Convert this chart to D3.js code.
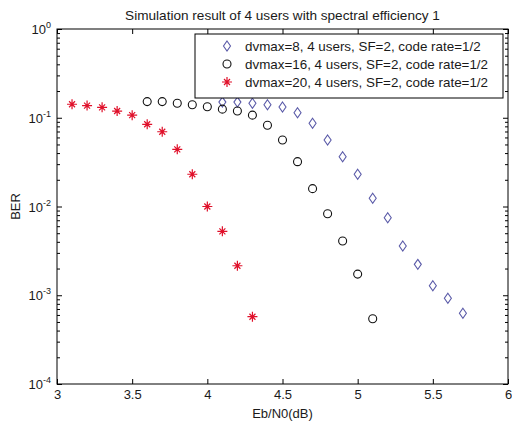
<!DOCTYPE html>
<html>
<head>
<meta charset="utf-8">
<script src="https://cdn.jsdelivr.net/npm/d3@7"></script>
<style>
  body { margin: 0; background: #fff; }
  text { font-family: "Liberation Sans", Arial, sans-serif; fill: #1a1a1a; }
</style>
</head>
<body>
<script>
// values
const ebnoDiamond = [4.1, 4.2, 4.3, 4.4, 4.5, 4.6, 4.7, 4.8, 4.9, 5.0, 5.1, 5.2, 5.3, 5.4, 5.5, 5.6, 5.7];
const berDiamond = [0.150, 0.150, 0.1455, 0.140, 0.132, 0.114, 0.0866, 0.0561, 0.0364, 0.0231, 0.0124, 0.00748, 0.00359, 0.00223, 0.00128, 0.000924, 0.000626];

const ebnoCircle = [3.6, 3.7, 3.8, 3.9, 4.0, 4.1, 4.2, 4.3, 4.4, 4.5, 4.6, 4.7, 4.8, 4.9, 5.0, 5.1];
const berCircle = [0.152, 0.152, 0.1455, 0.140, 0.133, 0.125, 0.119, 0.107, 0.0822, 0.0561, 0.0320, 0.0159, 0.0083, 0.00408, 0.00173, 0.000544];

const ebnoStar = [3.1, 3.2, 3.3, 3.4, 3.5, 3.6, 3.7, 3.8, 3.9, 4.0, 4.1, 4.2, 4.3];
const berStar = [0.142, 0.137, 0.131, 0.119, 0.107, 0.0844, 0.0695, 0.0441, 0.0231, 0.0100, 0.00525, 0.00215, 0.000573];

const legendLabels = [
  "dvmax=8, 4 users, SF=2, code rate=1/2",
  "dvmax=16, 4 users, SF=2, code rate=1/2",
  "dvmax=20, 4 users, SF=2, code rate=1/2"
];
const xTicks = [3, 3.5, 4, 4.5, 5, 5.5, 6];
const yExponents = [0, -1, -2, -3, -4];

const W = 512, H = 425;
const margin = {left: 57, top: 29, right: 4, bottom: 41};
const w = W - margin.left - margin.right;
const h = H - margin.top - margin.bottom;

const svg = d3.select("body").append("svg")
    .attr("width", W)
    .attr("height", H);

const g = svg.append("g").attr("transform", `translate(${margin.left},${margin.top})`);

const x = d3.scaleLinear().domain([3, 6]).range([0, w]);
const y = d3.scaleLog().domain([1e-4, 1]).range([h, 0]);

const majorY = yExponents.map(e => Math.pow(10, e));
const minorY = [];
[-4, -3, -2, -1].forEach(e => {
  for (let k = 2; k <= 9; k++) minorY.push(k * Math.pow(10, e));
});

function styleAxis (sel) {
  sel.select(".domain").remove();
  sel.selectAll("line").attr("stroke", "#000");
  sel.selectAll("text").style("font-size", "13px").attr("fill", "#1a1a1a");
}

// x axes (bottom with labels, top without)
g.append("g").attr("transform", `translate(0,${h})`)
    .call(d3.axisBottom(x).tickValues(xTicks).tickSize(-5).tickPadding(6).tickFormat(d3.format("")))
    .call(styleAxis);
g.append("g")
    .call(d3.axisTop(x).tickValues(xTicks).tickSize(-5).tickFormat(""))
    .call(styleAxis);

// y axes, major and minor ticks on both sides
g.append("g").call(d3.axisLeft(y).tickValues(majorY).tickSize(-5).tickFormat("")).call(styleAxis);
g.append("g").call(d3.axisLeft(y).tickValues(minorY).tickSize(-3).tickFormat("")).call(styleAxis);
g.append("g").attr("transform", `translate(${w},0)`)
    .call(d3.axisRight(y).tickValues(majorY).tickSize(-5).tickFormat("")).call(styleAxis);
g.append("g").attr("transform", `translate(${w},0)`)
    .call(d3.axisRight(y).tickValues(minorY).tickSize(-3).tickFormat("")).call(styleAxis);

// y tick labels as 10^n
const yl = g.append("g").selectAll("text")
    .data(yExponents).enter()
  .append("text")
    .attr("x", -6)
    .attr("y", e => y(Math.pow(10, e)) + 5)
    .attr("text-anchor", "end")
    .style("font-size", "13px");
yl.append("tspan").text("10");
yl.append("tspan").attr("dy", -6).style("font-size", "9px").text(e => e);

// frame
g.append("rect")
    .attr("width", w).attr("height", h)
    .attr("fill", "none").attr("stroke", "#000").attr("stroke-width", 1);

// markers
const diamond = "M0,-5L3.5,0L0,5L-3.5,0Z";
const star = "M0,-5V5M-5,0H5M-3,-3L3,3M-3,3L3,-3";

function drawDiamond (sel) {
  sel.append("path").attr("d", diamond)
    .attr("fill", "none").attr("stroke", "#5a5aa8").attr("stroke-width", 1.1);
}
function drawCircle (sel) {
  sel.append("circle").attr("r", 4)
    .attr("fill", "none").attr("stroke", "#111").attr("stroke-width", 1.1);
}
function drawStar (sel) {
  sel.append("path").attr("d", star)
    .attr("fill", "none").attr("stroke", "#e0102a").attr("stroke-width", 1.2);
}

function series (xs, ys, draw) {
  g.append("g").selectAll("g")
      .data(d3.zip(xs, ys)).enter()
    .append("g")
      .attr("transform", d => `translate(${x(d[0])},${y(d[1])})`)
      .each(function () { draw(d3.select(this)); });
}

series(ebnoDiamond, berDiamond, drawDiamond);
series(ebnoCircle, berCircle, drawCircle);
series(ebnoStar, berStar, drawStar);

// legend
const lg = svg.append("g").attr("transform", "translate(195,34)");
lg.append("rect").attr("width", 308).attr("height", 64)
    .attr("fill", "#fff").attr("stroke", "#000").attr("stroke-width", 1);
const drawers = [drawDiamond, drawCircle, drawStar];
legendLabels.forEach((label, i) => {
  const row = lg.append("g").attr("transform", `translate(0,${12 + i * 18})`);
  drawers[i](row.append("g").attr("transform", "translate(32,0)"));
  row.append("text").attr("x", 50).attr("y", 5).style("font-size", "13.4px").text(label);
});

// title and axis labels
svg.append("text")
    .attr("x", margin.left + w / 2).attr("y", 20)
    .attr("text-anchor", "middle").style("font-size", "13.6px")
    .text("Simulation result of 4 users with spectral efficiency 1");
svg.append("text")
    .attr("x", margin.left + w / 2).attr("y", 418)
    .attr("text-anchor", "middle").style("font-size", "13px")
    .text("Eb/N0(dB)");
svg.append("text")
    .attr("transform", `translate(20,${margin.top + h / 2}) rotate(-90)`)
    .attr("text-anchor", "middle").style("font-size", "13px")
    .text("BER");
</script>
</body>
</html>
